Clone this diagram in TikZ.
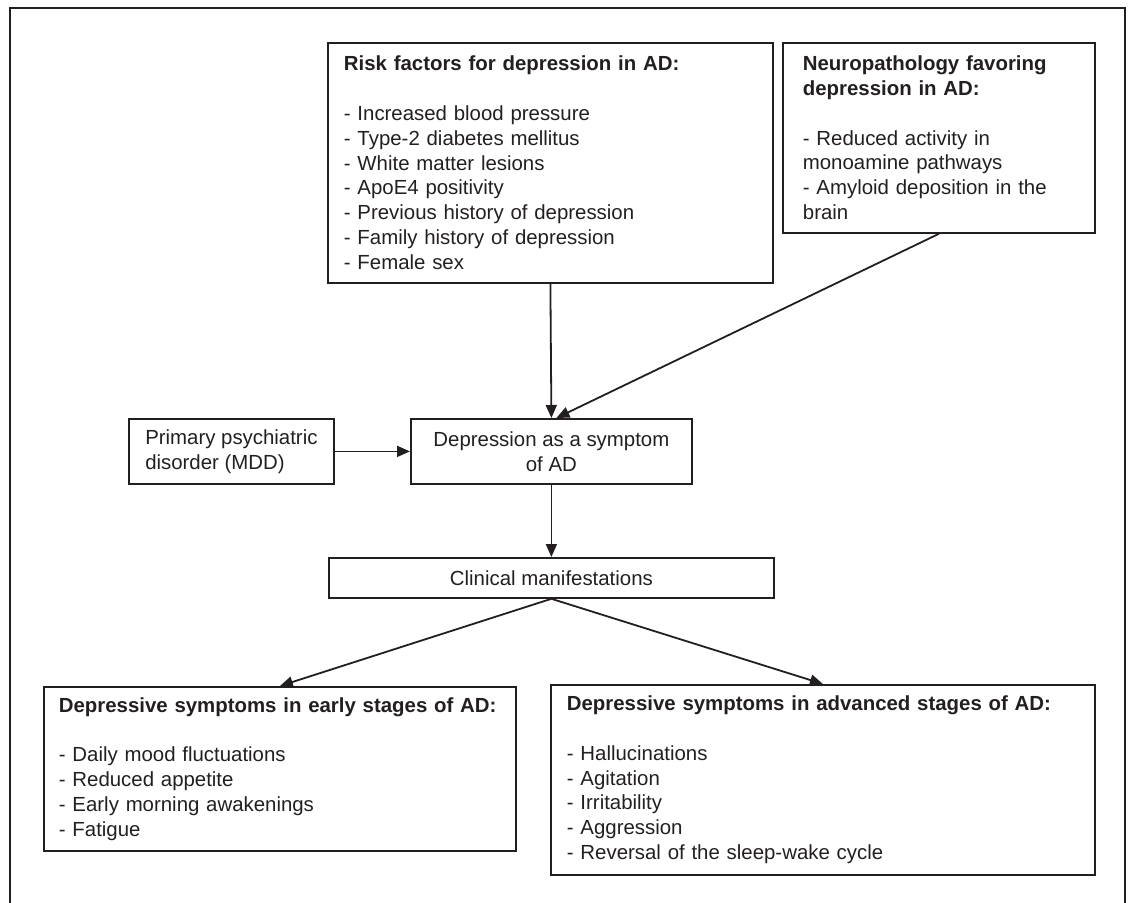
\documentclass[tikz,border=0pt]{standalone}
\usepackage{fontspec}
\setmainfont{Liberation Sans}
\usetikzlibrary{arrows.meta}
\definecolor{ink}{HTML}{231F20}

\begin{document}
\begin{tikzpicture}[x=0.5pt,y=-0.5pt,
        box/.style={draw=ink,line width=0.9pt,text=ink,anchor=north west,inner sep=0pt,font=\fontsize{10.2}{12.4}\selectfont},
        arr/.style={draw=ink,line width=0.9pt,-{Triangle[length=6.5pt,width=5.5pt]}}]
                    \useasboundingbox (0,0) rectangle (1129,903);
                    \draw[ink,line width=0.9pt] (10,903)--(10,8)--(1125,8)--(1125,903);
                    \node[box,minimum width=222.5pt,minimum height=120pt,text width=206.5pt,align=left] (risk) at (327,42)
                        {\textbf{Risk factors for depression in AD:}\\[12.4pt]
                        - Increased blood pressure\\- Type-2 diabetes mellitus\\- White matter lesions\\- ApoE4 positivity\\
                        - Previous history of depression\\- Family history of depression\\- Female sex};
                    \node[box,minimum width=156pt,minimum height=95pt,text width=136pt,align=left] (neuro) at (782,42)
                        {\textbf{Neuropathology favoring}\\\textbf{depression in AD:}\\[12.4pt]
                        - Reduced activity in\\monoamine pathways\\- Amyloid deposition in the\\brain};
                    \node[box,minimum width=102.5pt,minimum height=32.5pt,align=left] (prim) at (128,418)
                        {Primary psychiatric\\disorder (MDD)};
                    \node[box,minimum width=140.5pt,minimum height=32.5pt,align=center] (dep) at (410,418)
                        {Depression as a symptom\\of AD};
                    \node[box,minimum width=222.5pt,minimum height=20pt] (clin) at (328,557) {Clinical manifestations};
                    \node[box,minimum width=236pt,minimum height=82pt,text width=221pt,align=left] (early) at (43,686)
                        {\textbf{Depressive symptoms in early stages of AD:}\\[12.4pt]
                        - Daily mood fluctuations\\- Reduced appetite\\- Early morning awakenings\\- Fatigue};
                    \node[box,minimum width=272pt,minimum height=95pt,text width=256pt,align=left] (adv) at (550,684)
                        {\textbf{Depressive symptoms in advanced stages of AD:}\\[12.4pt]
                        - Hallucinations\\- Agitation\\- Irritability\\- Aggression\\- Reversal of the sleep-wake cycle};
                    \draw[arr] (risk.south)--(dep.north);
                    \draw[arr] (neuro.south)--([xshift=2.5pt]dep.north);
                    \draw[arr] (prim)--(dep);
                    \draw[arr] (dep)--(clin);
                    \draw[arr] (clin.south)--(early.north);
                    \draw[arr] (clin.south)--(adv.north);
                \end{tikzpicture}
\end{document}
